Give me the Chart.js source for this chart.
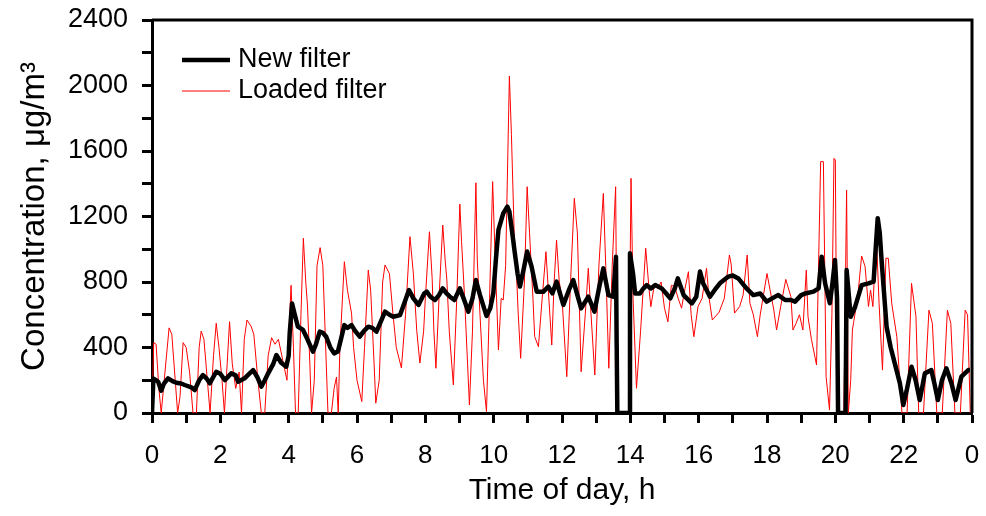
<!DOCTYPE html>
<html>
<head>
<meta charset="utf-8">
<script src="https://cdn.jsdelivr.net/npm/chart.js@4"></script>
<style>
html,body{margin:0;padding:0;background:#fff;}
#c{display:block;}
</style>
</head>
<body>
<canvas id="c" width="986" height="516"></canvas>
<script>
// ---- Data ----
const seriesLabels = ["New filter", "Loaded filter"];

const tNew = [0.00,0.04,0.12,0.18,0.27,0.35,0.47,0.60,0.71,0.85,0.96,1.15,1.25,1.38,1.49,1.60,1.69,1.88,2.00,2.13,2.32,2.45,2.52,2.71,2.85,2.96,3.08,3.20,3.30,3.40,3.55,3.64,3.78,3.93,4.00,4.03,4.10,4.18,4.27,4.42,4.55,4.71,4.80,4.91,5.00,5.10,5.22,5.33,5.44,5.53,5.63,5.72,5.84,5.95,6.08,6.20,6.33,6.45,6.57,6.70,6.82,6.95,7.06,7.26,7.40,7.52,7.65,7.80,7.97,
8.04,8.15,8.28,8.40,8.51,8.62,8.72,8.85,9.01,9.12,9.26,9.38,9.48,9.60,9.79,9.90,9.99,10.07,10.14,10.28,10.40,10.46,10.52,10.62,10.70,10.77,10.88,10.98,11.11,11.26,11.45,11.60,11.72,11.84,12.04,12.20,12.33,12.45,12.56,12.77,12.95,13.10,13.21,13.36,13.50,13.58,13.60,13.62,13.97,13.99,14.08,14.14,14.28,14.38,14.48,14.60,14.73,14.92,15.05,15.17,15.30,15.39,15.56,15.80,15.93,
16.04,16.13,16.33,16.50,16.62,16.87,17.00,17.16,17.40,17.60,17.80,17.99,18.15,18.33,18.53,18.70,18.82,19.00,19.12,19.36,19.51,19.60,19.70,19.84,19.92,19.99,20.05,20.08,20.30,20.33,20.45,20.58,20.77,20.97,21.12,21.18,21.24,21.30,21.36,21.50,21.62,21.74,21.89,21.99,22.10,22.23,22.35,22.47,22.62,22.81,22.90,23.00,23.12,23.25,23.40,23.52,23.69,23.89,23.94];
const vNew = [0,210,200,191,136,180,212,195,185,180,171,157,140,200,232,210,181,252,240,201,242,230,191,212,240,262,220,161,200,242,300,354,307,283,350,486,669,600,527,507,450,375,420,497,490,466,400,364,375,450,537,520,537,500,466,500,527,520,497,560,619,600,588,598,680,751,700,660,731,
741,710,690,720,761,730,710,690,761,700,619,700,812,720,593,640,731,950,1118,1219,1260,1230,1138,976,850,772,880,986,894,741,740,772,731,802,660,750,812,720,639,710,619,780,883,720,710,954,425,0,0,975,850,730,730,760,781,760,781,761,730,700,760,822,720,669,710,
864,792,710,760,792,833,840,822,761,720,730,680,700,720,690,690,680,720,730,741,761,954,792,670,800,934,700,0,0,873,588,649,781,792,802,1000,1190,1100,914,527,400,303,181,49,150,283,200,79,242,262,180,79,200,273,180,79,222,262,262];

const tLoaded = [0.00,0.05,0.12,0.20,0.27,0.38,0.50,0.58,0.68,0.75,0.82,0.91,1.00,1.10,1.20,1.30,1.38,1.44,1.52,1.62,1.70,1.80,1.88,1.96,2.05,2.12,2.20,2.27,2.35,2.45,2.55,2.62,2.70,2.78,2.90,2.98,3.10,3.20,3.30,3.40,3.50,3.60,3.70,3.85,3.95,
4.07,4.14,4.20,4.28,4.36,4.43,4.50,4.55,4.62,4.67,4.75,4.83,4.92,5.00,5.10,5.15,5.25,5.33,5.40,5.45,5.50,5.63,5.72,5.84,5.90,6.00,6.14,6.22,6.33,6.40,6.50,6.55,6.65,6.75,6.82,6.95,7.05,7.15,7.30,7.42,7.55,7.65,7.75,7.84,7.95,
8.00,8.12,8.20,8.25,8.31,8.40,8.51,8.58,8.63,8.70,8.82,8.92,9.01,9.06,9.15,9.29,9.38,9.48,9.52,9.60,9.70,9.79,9.88,9.97,10.05,10.14,10.22,10.28,10.35,10.46,10.52,10.60,10.65,10.72,10.79,10.90,10.98,11.05,11.15,11.20,11.31,11.42,11.53,11.60,11.70,11.77,11.84,11.92,
12.00,12.14,12.25,12.36,12.45,12.56,12.68,12.77,12.85,12.96,13.08,13.21,13.28,13.37,13.47,13.57,13.62,13.95,14.02,14.08,14.18,14.30,14.45,14.55,14.60,14.70,14.80,14.90,15.00,15.10,15.20,15.30,15.40,15.50,15.60,15.70,15.78,15.86,15.98,
16.10,16.23,16.30,16.40,16.60,16.75,16.90,16.95,17.05,17.20,17.30,17.42,17.50,17.60,17.72,17.80,18.00,18.20,18.28,18.40,18.55,18.70,18.76,18.85,18.95,19.05,19.15,19.20,19.30,19.45,19.57,19.65,19.73,19.83,19.90,19.96,20.00,20.05,20.25,20.33,20.38,20.45,20.50,20.54,20.65,20.77,20.87,20.97,21.03,21.10,21.20,21.28,21.38,21.48,21.55,21.65,21.80,21.95,22.10,22.23,22.36,22.44,22.58,22.74,22.84,22.97,23.13,23.28,23.38,23.50,23.66,23.80,23.87,23.95,24.00];
const vLoaded = [0,430,420,150,0,250,520,480,200,0,100,430,400,250,0,0,400,500,450,200,0,350,548,400,200,0,300,558,300,150,250,0,450,568,530,480,200,0,0,350,460,420,450,300,200,
780,400,0,0,600,1067,800,660,300,0,200,900,1010,900,300,0,0,150,220,0,400,924,750,610,400,200,70,400,873,750,300,60,200,800,904,850,610,400,275,600,1077,850,500,305,500,
700,1107,822,500,273,700,1148,934,813,500,171,700,1276,1047,700,49,500,1406,934,600,200,8,700,1413,900,385,700,690,900,2058,1700,1100,934,600,334,800,1382,1100,700,467,405,700,985,750,415,800,1056,800,
700,222,800,1311,1100,252,600,884,600,232,900,1341,900,273,900,1382,0,0,1433,700,151,500,1006,750,649,780,760,800,640,557,780,771,700,640,760,863,600,466,649,
700,884,710,568,616,700,965,910,610,650,720,965,670,600,466,598,852,628,507,650,816,710,507,547,600,507,873,588,450,293,1535,1535,222,18,600,1555,1545,0,0,1362,0,200,507,560,700,959,895,650,751,650,1087,670,262,945,945,670,466,0,0,792,588,0,0,628,547,0,0,628,547,0,0,628,600,0,0];

const xTickValues = [0,2,4,6,8,10,12,14,16,18,20,22,24];
const xTickLabels = ["0","2","4","6","8","10","12","14","16","18","20","22","0"];
const yTickValues = [0,400,800,1200,1600,2000,2400];
const yTickLabels = ["0","400","800","1200","1600","2000","2400"];

const xTitle = "Time of day, h";
const yTitle = "Concentration, \u03BCg/m\u00B3";

// ---- Build chart ----
const toPts = (t, v) => t.map((x, i) => ({x: x, y: v[i]}));
const FONT = "'Liberation Sans', Arial, 'DejaVu Sans', sans-serif";

const framePlugin = {
  id: 'frame',
  afterDatasetsDraw(chart) {
    const {ctx, chartArea: a} = chart;
    ctx.save();
    ctx.strokeStyle = '#000';
    ctx.lineWidth = 3;
    ctx.beginPath();
    ctx.moveTo(a.left, a.top);
    ctx.lineTo(a.right, a.top);
    ctx.lineTo(a.right, a.bottom);
    ctx.stroke();
    ctx.restore();
  }
};

const legendPlugin = {
  id: 'innerLegend',
  afterDraw(chart) {
    const ctx = chart.ctx;
    ctx.save();
    ctx.font = "27px " + FONT;
    ctx.textBaseline = 'middle';
    ctx.textAlign = 'left';
    chart.data.datasets.forEach((ds, i) => {
      const y = 60 + i * 31;
      ctx.strokeStyle = ds.borderColor;
      ctx.lineWidth = ds.borderWidth;
      ctx.beginPath();
      ctx.moveTo(182, y);
      ctx.lineTo(230, y);
      ctx.stroke();
      ctx.fillStyle = '#000';
      ctx.fillText(ds.label, 238, y);
    });
    ctx.restore();
  }
};

new Chart(document.getElementById('c'), {
  type: 'line',
  data: {
    datasets: [
      {label: seriesLabels[0], data: toPts(tNew, vNew), borderColor: '#000000', borderWidth: 4.5, pointRadius: 0, tension: 0, fill: false, borderJoinStyle: 'round'},
      {label: seriesLabels[1], data: toPts(tLoaded, vLoaded), borderColor: '#ff0000', borderWidth: 1, pointRadius: 0, tension: 0, fill: false}
    ]
  },
  options: {
    responsive: false,
    animation: false,
    events: [],
    layout: {padding: {top: 20, right: 14, left: 0, bottom: 0}},
    plugins: {legend: {display: false}, tooltip: {enabled: false}},
    scales: {
      x: {
        type: 'linear', min: 0, max: 24,
        afterFit(s) { s.height = 103; s.paddingLeft = 0; s.paddingRight = 0; },
        ticks: {
          stepSize: 1, autoSkip: false, maxRotation: 0, color: '#000', padding: 17,
          font: {family: FONT, size: 26},
          callback(v) { const i = xTickValues.indexOf(v); return i >= 0 ? xTickLabels[i] : ''; }
        },
        grid: {drawOnChartArea: false, drawTicks: true, tickLength: 10, tickWidth: 3, tickColor: '#000'},
        border: {display: true, color: '#000', width: 3},
        title: {display: true, text: xTitle, color: '#000', font: {family: FONT, size: 30}, padding: {top: 0, bottom: 7}}
      },
      y: {
        type: 'linear', min: 0, max: 2400,
        afterFit(s) { s.width = 152; s.paddingTop = 0; s.paddingBottom = 0; },
        ticks: {
          stepSize: 200, autoSkip: false, color: '#000', padding: 14,
          font: {family: FONT, size: 27},
          callback(v) { const i = yTickValues.indexOf(v); return i >= 0 ? yTickLabels[i] : ''; }
        },
        grid: {drawOnChartArea: false, drawTicks: true, tickLength: 10, tickWidth: 3, tickColor: '#000'},
        border: {display: true, color: '#000', width: 3},
        title: {display: true, text: yTitle, color: '#000', font: {family: FONT, size: 33}, padding: {top: 15, bottom: 0}}
      }
    }
  },
  plugins: [framePlugin, legendPlugin]
});
</script>
</body>
</html>
